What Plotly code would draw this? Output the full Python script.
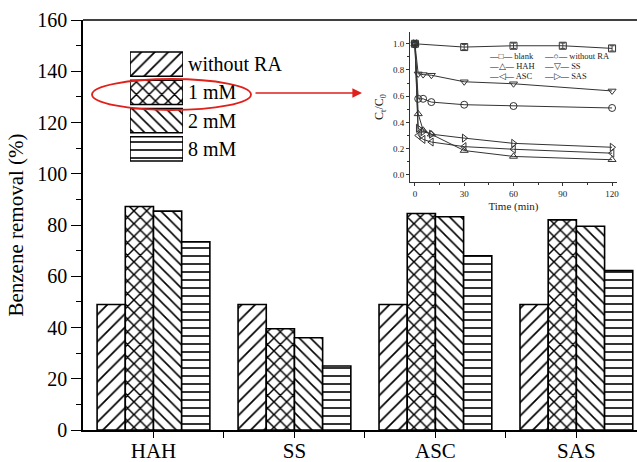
import plotly.graph_objects as go

# ---------------- data ----------------
categories = ["HAH", "SS", "ASC", "SAS"]
series_names = ["without RA", "1 mM", "2 mM", "8 mM"]
without_ra = [49, 49, 49, 49]
mm1 = [87.2, 39.5, 84.5, 82.0]
mm2 = [85.4, 36.0, 83.2, 79.5]
mm8 = [73.4, 25.0, 68.0, 62.2]
patterns = ["/", "x", "\\", "-"]
y_ticks = [0, 20, 40, 60, 80, 100, 120, 140, 160]

# inset (Ct/C0 vs time)
t_blank = [0, 30, 60, 90, 120]
blank = [1.0, 0.975, 0.985, 0.985, 0.965]
blank_err = [0.01, 0.02, 0.02, 0.02, 0.02]
t_k = [0, 2, 5, 10, 30, 60, 120]
inset_without = [1.0, 0.58, 0.58, 0.555, 0.535, 0.525, 0.51]
inset_hah = [1.0, 0.465, 0.34, 0.31, 0.185, 0.14, 0.115]
inset_ss = [1.0, 0.77, 0.765, 0.76, 0.71, 0.695, 0.64]
inset_asc = [1.0, 0.30, 0.27, 0.25, 0.215, 0.195, 0.165]
inset_sas = [1.0, 0.355, 0.33, 0.31, 0.28, 0.24, 0.21]
inset_series = [
    ("blank", "square-open"),
    ("without RA", "circle-open"),
    ("HAH", "triangle-up-open"),
    ("SS", "triangle-down-open"),
    ("ASC", "triangle-left-open"),
    ("SAS", "triangle-right-open"),
]
inset_legend_glyph = {"blank": "□", "without RA": "○", "HAH": "△", "SS": "▽", "ASC": "◁", "SAS": "▷"}

FONT = "Liberation Serif, Times New Roman, serif"
W, H = 637, 462
L, R, T, B = 83, 0, 20, 32
PW, PH = W - L - R, H - T - B


def px_x(p):
    return (p - L) / PW


def px_y(p):
    return (H - B - p) / PH


pattern_sizes = [9.5, 9, 8, 8]
pattern_solid = [0.18, 0.3, 0.2, 0.2]

fig = go.Figure()

values = [without_ra, mm1, mm2, mm8]
x_idx = list(range(len(categories)))
for name, vals, pat, ps, sol in zip(series_names, values, patterns, pattern_sizes, pattern_solid):
    fig.add_trace(go.Bar(
        x=x_idx, y=vals, name=name, showlegend=False,
        marker=dict(color="white", line=dict(color="black", width=1.6),
                    pattern=dict(shape=pat, fgcolor="black", bgcolor="white",
                                 size=ps, solidity=sol, fillmode="replace")),
        xaxis="x", yaxis="y",
    ))

# legend swatches as a small bar subplot
fig.add_trace(go.Bar(
    x=[1] * len(series_names), y=series_names, orientation="h", showlegend=False,
    width=0.86,
    marker=dict(color="white", line=dict(color="black", width=1.6),
                pattern=dict(shape=patterns, fgcolor="black", bgcolor="white",
                             size=pattern_sizes, solidity=pattern_solid, fillmode="replace")),
    xaxis="x3", yaxis="y3", hoverinfo="skip",
))

# inset traces
inset_data = {
    "blank": (t_blank, blank),
    "without RA": (t_k, inset_without),
    "HAH": (t_k, inset_hah),
    "SS": (t_k, inset_ss),
    "ASC": (t_k, inset_asc),
    "SAS": (t_k, inset_sas),
}
for name, sym in inset_series:
    tx, ty = inset_data[name]
    kw = {}
    if name == "blank":
        kw["error_y"] = dict(type="data", array=blank_err, color="#444", thickness=1, width=2.5)
    fig.add_trace(go.Scatter(
        x=tx, y=ty, mode="lines+markers", name=name, showlegend=False,
        line=dict(color="#333", width=1),
        marker=dict(symbol=sym, size=7, color="#333", line=dict(width=1)),
        xaxis="x2", yaxis="y2", **kw,
    ))

# inset legend as text
legend_pos = [(487, 56), (542, 56), (487, 66), (542, 66), (487, 76), (542, 76)]
for (name, _), (lx, ly) in zip(inset_series, legend_pos):
    fig.add_annotation(
        x=px_x(lx), y=px_y(ly), xref="paper", yref="paper", xanchor="left", yanchor="middle",
        text="—" + inset_legend_glyph[name] + "— " + name, showarrow=False,
        font=dict(family=FONT, size=8.5, color="#222"),
    )

# red ellipse and arrow
fig.add_shape(type="circle", xref="paper", yref="paper",
              x0=px_x(92), x1=px_x(251), y0=px_y(110), y1=px_y(79),
              line=dict(color="#e0201b", width=1.8))
fig.add_annotation(x=px_x(362), y=px_y(93), xref="paper", yref="paper",
                   ax=-108, ay=0, axref="pixel", ayref="pixel",
                   showarrow=True, arrowhead=2, arrowsize=1.2, arrowwidth=1.6,
                   arrowcolor="#e0201b", text="")
# top frame line
fig.add_shape(type="line", xref="paper", yref="paper", x0=0, x1=1, y0=1, y1=1,
              line=dict(color="black", width=1.5))

fig.update_layout(
    width=W, height=H,
    margin=dict(l=L, r=R, t=T, b=B, pad=0, autoexpand=False),
    paper_bgcolor="white", plot_bgcolor="white",
    barmode="group", bargap=0.2, bargroupgap=0,
    font=dict(family=FONT, color="black"),
    xaxis=dict(
        range=[-0.5, 3.43], tickmode="array", tickvals=x_idx, ticktext=categories,
        ticks="outside", ticklen=6, tickwidth=1.2, tickcolor="black", automargin=False,
        showline=True, linecolor="black", linewidth=1.5, showgrid=False, zeroline=False,
        tickfont=dict(size=21, family=FONT), ticklabelstandoff=-5,
        minor=dict(tickmode="array", tickvals=[0.5, 1.5, 2.5], ticks="outside", ticklen=6,
                   tickcolor="black", tickwidth=1.2),
    ),
    yaxis=dict(
        range=[0, 160], tickmode="array", tickvals=y_ticks, automargin=False,
        ticks="outside", ticklen=10, tickwidth=1.2, tickcolor="black",
        showline=True, linecolor="black", linewidth=1.5, showgrid=False, zeroline=False,
        tickfont=dict(size=20, family=FONT),
        minor=dict(dtick=10, ticks="outside", ticklen=5, tickcolor="black", tickwidth=1.2),
        title=dict(text="Benzene removal (%)", font=dict(size=21, family=FONT), standoff=8),
    ),
    xaxis2=dict(
        domain=[px_x(410), px_x(617)], anchor="y2", range=[-3, 123], automargin=False,
        tickmode="array", tickvals=[0, 30, 60, 90, 120],
        ticks="outside", ticklen=3, tickcolor="#333", showline=True, linecolor="#333",
        linewidth=1, showgrid=False, zeroline=False,
        tickfont=dict(size=9, family=FONT, color="#222"),
        minor=dict(dtick=15, tick0=0, ticks="outside", ticklen=2, tickcolor="#333"),
        title=dict(text="Time (min)", font=dict(size=11, family=FONT, color="#222"), standoff=4),
    ),
    yaxis2=dict(
        domain=[px_y(182), px_y(32)], anchor="x2", range=[-0.055, 1.09], automargin=False,
        tickmode="array", tickvals=[0, 0.2, 0.4, 0.6, 0.8, 1.0], tickformat=".1f",
        ticks="outside", ticklen=3, tickcolor="#333", showline=True, linecolor="#333",
        linewidth=1, showgrid=False, zeroline=False,
        tickfont=dict(size=9, family=FONT, color="#222"),
        minor=dict(dtick=0.1, tick0=0, ticks="outside", ticklen=2, tickcolor="#333"),
        title=dict(text="C<sub>t</sub>/C<sub>0</sub>", font=dict(size=12, family=FONT, color="#222"), standoff=6),
    ),
    xaxis3=dict(domain=[px_x(130), px_x(183)], anchor="y3", range=[0, 1], visible=False),
    yaxis3=dict(
        domain=[px_y(163), px_y(50)], anchor="x3", side="right", autorange="reversed",
        showline=False, showgrid=False, zeroline=False, ticks="", automargin=False,
        tickfont=dict(size=20, family=FONT), ticklabelstandoff=4,
    ),
)

fig.write_html(
    "out.html",
    config={"displayModeBar": False},
    post_script="document.body.style.margin='0px';document.body.style.overflow='hidden';",
)
